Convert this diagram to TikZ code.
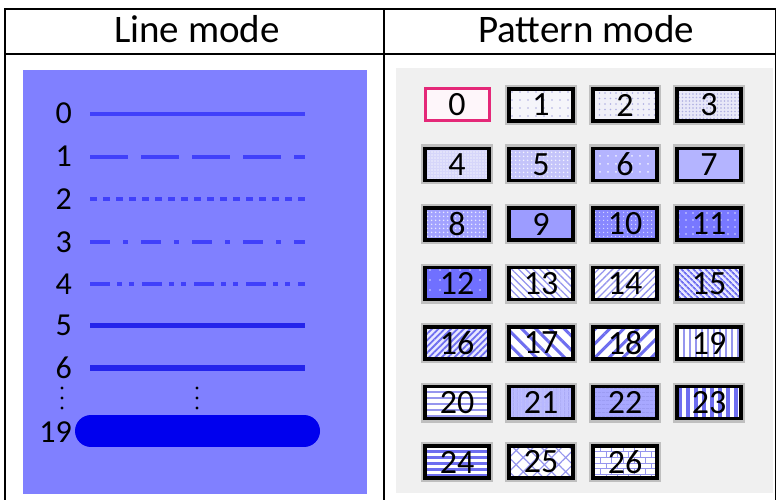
\documentclass[tikz,border=0pt]{standalone}
\usepackage{fontspec}
\setmainfont{Carlito}
\usetikzlibrary{patterns,patterns.meta}
\definecolor{panel}{RGB}{128,128,255}
\definecolor{lblue}{RGB}{64,64,250}
\definecolor{mblue}{RGB}{36,36,235}
\definecolor{tblue}{RGB}{0,0,238}
\definecolor{gpanel}{RGB}{240,240,240}
\definecolor{pinkb}{RGB}{228,40,120}
\definecolor{pdot}{RGB}{175,175,225}
\definecolor{plin}{RGB}{150,150,238}
\definecolor{pdark}{RGB}{110,110,240}
\definecolor{f1}{RGB}{245,245,250}
\definecolor{f2}{RGB}{240,240,248}
\definecolor{f3}{RGB}{232,232,248}
\definecolor{f4}{RGB}{214,214,250}
\definecolor{f5}{RGB}{196,196,250}
\definecolor{f6}{RGB}{180,180,255}
\definecolor{f7}{RGB}{180,180,255}
\definecolor{f8}{RGB}{162,162,255}
\definecolor{f9}{RGB}{156,156,255}
\definecolor{f10}{RGB}{136,136,255}
\definecolor{f11}{RGB}{120,120,255}
\definecolor{f12}{RGB}{112,112,255}
\definecolor{f15}{RGB}{232,232,255}
\definecolor{f21}{RGB}{184,184,255}
\definecolor{f22}{RGB}{168,168,255}
\tikzset{
  hdr/.style={font=\fontsize{39}{42}\selectfont, anchor=base, inner sep=0pt},
  lab/.style={font=\fontsize{32}{34}\selectfont, anchor=base east, inner sep=0pt},
  boxbase/.style={minimum width=64pt, minimum height=32pt, inner sep=0pt,
    font=\fontsize{34}{34}\selectfont},
  pbox/.style={boxbase, draw=black, line width=3.5pt,
    preaction={draw=black!25, line width=8pt}},
  ln/.style={line width=4pt, lblue},
  ell/.style={fill=black, circle, inner sep=0pt, minimum size=3.2pt},
}
\begin{document}
\begin{tikzpicture}[x=1pt,y=-1pt]
\useasboundingbox (0,0) rectangle (777,500);
% panels
\fill[panel] (23,70) rectangle (367,494);
\fill[gpanel] (396,68) rectangle (773,493);
% table
\draw[line width=1.6pt] (5,500) -- (5,9) -- (775.5,9) -- (775.5,500);
\draw[line width=1.6pt] (384,9) -- (384,500);
\draw[line width=2pt] (5,54) -- (775.5,54);
\node[hdr] (h1) at (197,43) {Line mode};
\node[hdr] (h2) at (586,43) {Pattern mode};
% line mode
\draw[ln] (90,114) -- (305,114);
\draw[ln, dash pattern=on 38pt off 13pt] (90,157) -- (305,157);
\draw[ln, line width=3.5pt, dash pattern=on 7pt off 6pt] (90,199) -- (305,199);
\draw[ln, dash pattern=on 20pt off 13pt on 5pt off 13pt] (90,242) -- (305,242);
\draw[ln, dash pattern=on 20pt off 7pt on 5pt off 7pt on 5pt off 8pt] (90,284) -- (305,284);
\draw[mblue, line width=5pt] (90,325) -- (305,325);
\draw[mblue, line width=6pt] (90,368) -- (305,368);
\draw[tblue, line width=32pt, line cap=round] (91,431) -- (304,431);
\node[lab] (l0) at (72,124) {0};
\node[lab] (l1) at (72,167) {1};
\node[lab] (l2) at (72,209) {2};
\node[lab] (l3) at (72,252) {3};
\node[lab] (l4) at (72,294) {4};
\node[lab] (l5) at (72,335) {5};
\node[lab] (l6) at (72,378) {6};
\node[lab] (l19) at (72,442) {19};
\node[ell] (d1) at (62,388) {};
\node[ell] (d2) at (62,398) {};
\node[ell] (d3) at (62,408) {};
\node[ell] (d4) at (197,388) {};
\node[ell] (d5) at (197,398) {};
\node[ell] (d6) at (197,408) {};
% pattern mode
\node[boxbase, draw=pinkb, line width=3pt, fill=white!96!pinkb] (p0) at (457,105) {0};
\node[pbox, preaction={fill=f1}, pattern={Dots[radius=0.9pt,distance=8pt]}, pattern color=pdot] (p1) at (541,105) {1};
\node[pbox, preaction={fill=f2}, pattern={Dots[radius=0.9pt,distance=5.5pt]}, pattern color=pdot] (p2) at (625,105) {2};
\node[pbox, preaction={fill=f3}, pattern={Dots[radius=0.8pt,distance=3.5pt]}, pattern color=pdot] (p3) at (709,105) {3};
\node[pbox, preaction={fill=f4}, pattern={Dots[radius=0.8pt,distance=3pt]}, pattern color=white!60!f4] (p4) at (457,164.5) {4};
\node[pbox, preaction={fill=f5}, pattern={Dots[radius=1pt,distance=4pt]}, pattern color=white!80!f5] (p5) at (541,164.5) {5};
\node[pbox, preaction={fill=f6}, pattern={Dots[radius=1pt,distance=8pt]}, pattern color=white!80!f6] (p6) at (625,164.5) {6};
\node[pbox, fill=f7] (p7) at (709,164.5) {7};
\node[pbox, preaction={fill=f8}, pattern={Dots[radius=1pt,distance=4pt]}, pattern color=white!75!f8] (p8) at (457,224) {8};
\node[pbox, fill=f9] (p9) at (541,224) {9};
\node[pbox, preaction={fill=f10}, pattern={Dots[radius=0.8pt,distance=4pt]}, pattern color=white!70!f10] (p10) at (625,224) {10};
\node[pbox, preaction={fill=f11}, pattern={Dots[radius=0.9pt,distance=7pt]}, pattern color=white!70!f11] (p11) at (709,224) {11};
\node[pbox, preaction={fill=f12}, pattern={Dots[radius=0.9pt,distance=10pt]}, pattern color=white!70!f12] (p12) at (457,283.5) {12};
\node[pbox, preaction={fill=white}, pattern={Lines[angle=-45,distance=5pt,line width=1.3pt]}, pattern color=plin] (p13) at (541,283.5) {13};
\node[pbox, preaction={fill=white}, pattern={Lines[angle=45,distance=5pt,line width=1.3pt]}, pattern color=plin] (p14) at (625,283.5) {14};
\node[pbox, preaction={fill=f15}, pattern={Lines[angle=-45,distance=4pt,line width=1.8pt]}, pattern color=pdark] (p15) at (709,283.5) {15};
\node[pbox, preaction={fill=f15}, pattern={Lines[angle=45,distance=4.5pt,line width=1.8pt]}, pattern color=pdark] (p16) at (457,343) {16};
\node[pbox, preaction={fill=white}, pattern={Lines[angle=-45,distance=10pt,line width=3pt]}, pattern color=pdark] (p17) at (541,343) {17};
\node[pbox, preaction={fill=white}, pattern={Lines[angle=45,distance=10pt,line width=3pt]}, pattern color=pdark] (p18) at (625,343) {18};
\node[pbox, preaction={fill=white}, pattern={Lines[angle=90,distance=6pt,line width=2pt]}, pattern color=plin] (p19) at (709,343) {19};
\node[pbox, preaction={fill=white}, pattern={Lines[angle=0,distance=6pt,line width=2pt]}, pattern color=plin] (p20) at (457,402.5) {20};
\node[pbox, preaction={fill=f21}, pattern={Lines[angle=90,distance=4pt,line width=0.8pt]}, pattern color=plin] (p21) at (541,402.5) {21};
\node[pbox, preaction={fill=f22}, pattern={Lines[angle=0,distance=4pt,line width=0.8pt]}, pattern color=plin] (p22) at (625,402.5) {22};
\node[pbox, preaction={fill=white}, pattern={Lines[angle=90,distance=8pt,line width=3.5pt]}, pattern color=pdark] (p23) at (709,402.5) {23};
\node[pbox, preaction={fill=white}, pattern={Lines[angle=0,distance=6pt,line width=3pt]}, pattern color=pdark] (p24) at (457,462) {24};
\node[pbox, preaction={fill=white}, pattern={Hatch[angle=45,distance=10pt,line width=1.2pt]}, pattern color=plin] (p25) at (541,462) {25};
\node[pbox, preaction={fill=white}, pattern=bricks, pattern color=plin] (p26) at (625,462) {26};
\end{tikzpicture}
\end{document}
